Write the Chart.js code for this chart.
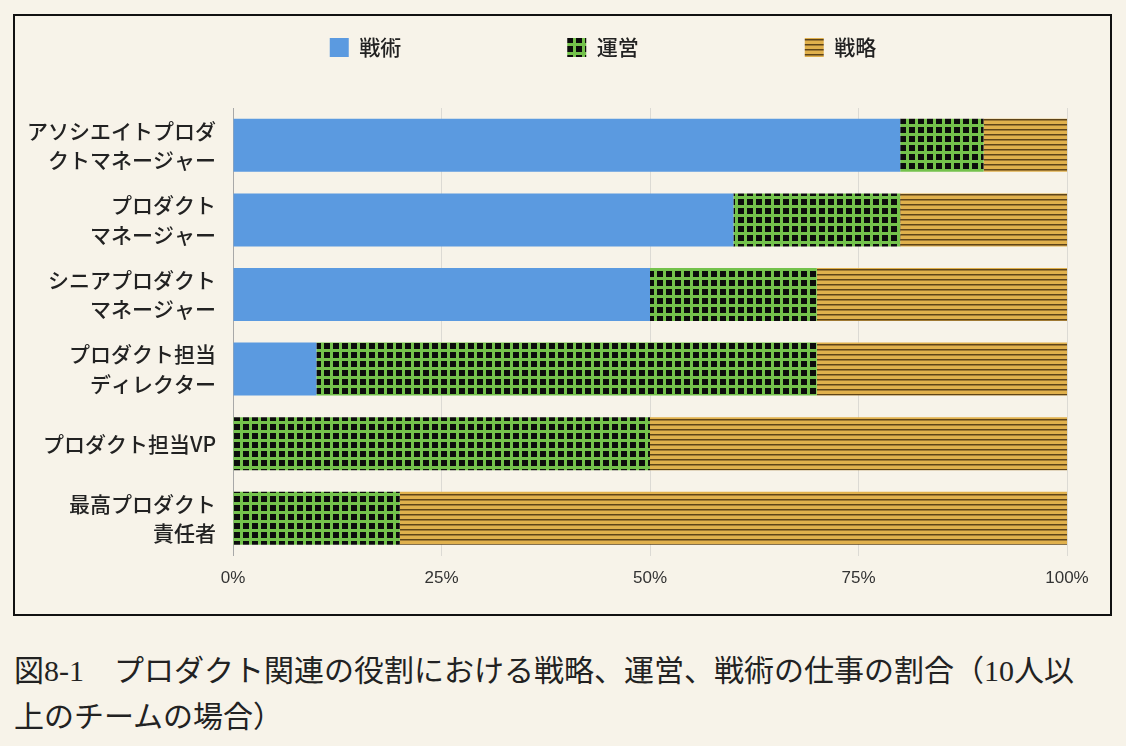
<!DOCTYPE html>
<html lang="ja">
<head>
<meta charset="utf-8">
<script src="https://cdn.jsdelivr.net/npm/chart.js@4/dist/chart.umd.min.js"></script>
<style>
  body { margin: 0; background: #f7f3e9; width: 1126px; height: 746px; overflow: hidden; }
  #frame { position: absolute; left: 13px; top: 14px; width: 1095px; height: 598px; border: 2px solid #111; }
  #caption {
    position: absolute; left: 14px; top: 648px; width: 1080px;
    font-family: "Liberation Serif", "Noto Sans CJK JP", serif;
    font-size: 30px; line-height: 46px; color: #222;
  }
</style>
</head>
<body>
<div id="frame"><canvas id="chart" width="1095" height="598"></canvas></div>
<div id="caption">図8-1　プロダクト関連の役割における戦略、運営、戦術の仕事の割合（10人以上のチームの場合）</div>
<script>
  const categories = [
    ["アソシエイトプロダ", "クトマネージャー"],
    ["プロダクト", "マネージャー"],
    ["シニアプロダクト", "マネージャー"],
    ["プロダクト担当", "ディレクター"],
    "プロダクト担当VP",
    ["最高プロダクト", "責任者"],
  ];
  const tactics = [80, 60, 50, 10, 0, 0];
  const operations = [10, 20, 20, 60, 50, 20];
  const strategy = [10, 20, 30, 30, 50, 80];
  const xTicks = [0, 25, 50, 75, 100];

  const makePattern = (w, h, draw) => {
    const c = document.createElement("canvas");
    c.width = w;
    c.height = h;
    draw(c.getContext("2d"));
    return c.getContext("2d").createPattern(c, "repeat");
  };

  const ctx = document.getElementById("chart").getContext("2d");

  // black squares on a green grid
  const gridPattern = makePattern(9, 9, (p) => {
    p.fillStyle = "#0c0c0c";
    p.fillRect(0, 0, 9, 9);
    p.fillStyle = "#74c24c";
    p.fillRect(0, 0, 9, 3);
    p.fillRect(0, 0, 3, 9);
  });

  // gold with thin brown horizontal stripes
  const stripePattern = makePattern(8, 5, (p) => {
    p.fillStyle = "#e0b04c";
    p.fillRect(0, 0, 8, 5);
    p.fillStyle = "#5e4418";
    p.fillRect(0, 3, 8, 1);
    p.fillStyle = "#a07a34";
    p.fillRect(0, 4, 8, 1);
  });

  const legendTweak = {
    id: "legendTweak",
    beforeInit(chart) {
      const fit = chart.legend.fit;
      chart.legend.fit = function () {
        fit.call(this);
        this.height = 92;
      };
    },
    afterLayout(chart) {
      const lg = chart.legend;
      lg.left += 62;
      lg.right += 62;
      lg.top = 21 - lg.options.labels.padding;
    },
  };

  new Chart(ctx, {
    type: "bar",
    data: {
      labels: categories,
      datasets: [
        { label: "戦術", data: tactics, backgroundColor: "#5b9ae0" },
        { label: "運営", data: operations, backgroundColor: gridPattern },
        { label: "戦略", data: strategy, backgroundColor: stripePattern },
      ],
    },
    options: {
      indexAxis: "y",
      responsive: false,
      animation: false,
      barPercentage: 0.71,
      categoryPercentage: 1,
      borderWidth: 0,
      layout: { padding: { left: 0, right: 43, top: 0, bottom: 12 } },
      plugins: {
        tooltip: { enabled: false },
        legend: {
          position: "top",
          labels: {
            boxWidth: 19,
            boxHeight: 19,
            padding: 166,
            color: "#222",
            font: { family: '"Noto Sans CJK JP", sans-serif', size: 21, weight: "500" },
          },
        },
      },
      scales: {
        x: {
          stacked: true,
          min: 0,
          max: 100,
          afterBuildTicks: (scale) => {
            scale.ticks = xTicks.map((v) => ({ value: v }));
          },
          ticks: {
            padding: 13,
            color: "#333",
            font: { family: '"Liberation Sans", sans-serif', size: 17 },
            callback: (v) => v + "%",
          },
          grid: { color: "#dcdad4", drawTicks: false },
          border: { display: false },
        },
        y: {
          stacked: true,
          afterFit: (scale) => {
            scale.width = 218;
          },
          ticks: {
            padding: 17,
            color: "#222",
            font: { family: '"Noto Sans CJK JP", sans-serif', size: 21, weight: "500", lineHeight: 1.4 },
          },
          grid: { display: false, drawTicks: false },
          border: { color: "#a8a8a8" },
        },
      },
    },
    plugins: [legendTweak],
  });
</script>
</body>
</html>
